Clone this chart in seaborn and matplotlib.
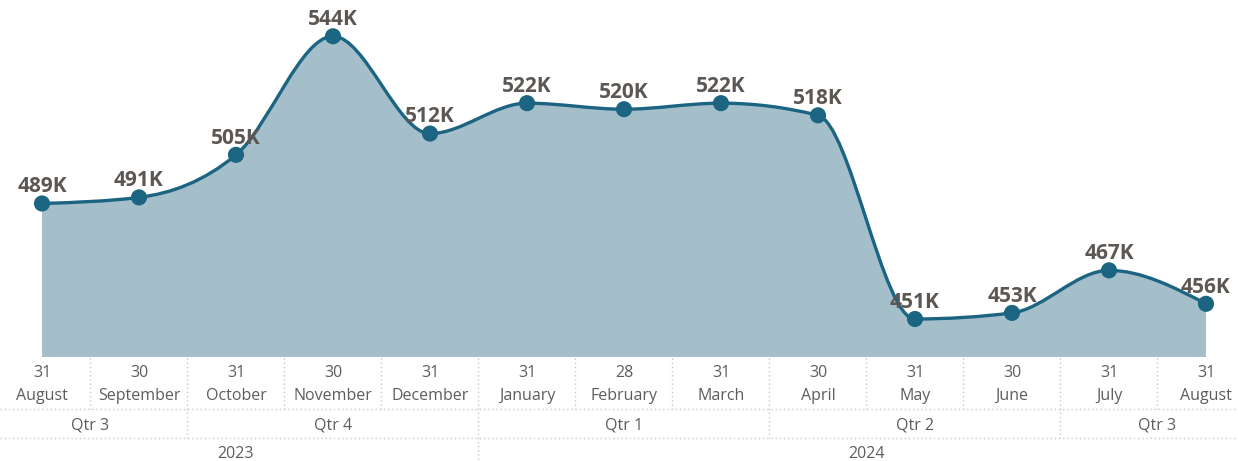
import numpy as np
import matplotlib
matplotlib.use("Agg")
import matplotlib.pyplot as plt
from matplotlib.path import Path
from matplotlib.patches import PathPatch
import seaborn as sns
import pandas as pd

sns.set_theme(style="white")
plt.rcParams['font.family'] = ['Open Sans', 'DejaVu Sans']

# data
days = ["31", "30", "31", "30", "31", "31", "28", "31", "30", "31", "30", "31", "31"]
months = ["August", "September", "October", "November", "December", "January",
          "February", "March", "April", "May", "June", "July", "August"]
quarters = ["Qtr 3", "Qtr 3", "Qtr 4", "Qtr 4", "Qtr 4", "Qtr 1", "Qtr 1",
            "Qtr 1", "Qtr 2", "Qtr 2", "Qtr 2", "Qtr 3", "Qtr 3"]
years = ["2023"] * 5 + ["2024"] * 8
values = [489, 491, 505, 544, 512, 522, 520, 522, 518, 451, 453, 467, 456]  # thousands

df = pd.DataFrame({"pos": np.arange(len(values)), "value": values})

LINE = "#1B6482"
FILL = "#A5BFCA"
TXT = "#5F5D5B"
SEP = "#C8C8C8"

W, H = 1238, 461
fig = plt.figure(figsize=(W / 100, H / 100), dpi=100)
base_px = 357
ax = fig.add_axes([0, (H - base_px) / H, 1, base_px / H])
ppk = 3.04  # pixels per thousand
x0px, step = 42, 97
ymin = 438.5
ax.set_xlim(-x0px / step, (W - x0px) / step)
ax.set_ylim(ymin, ymin + base_px / ppk)
ax.axis("off")


def monotone_tangents(x, y):
    x = np.asarray(x, float)
    y = np.asarray(y, float)
    n = len(x)
    h = np.diff(x)
    s = np.diff(y) / h
    t = np.zeros(n)
    for i in range(1, n - 1):
        p = (s[i - 1] * h[i] + s[i] * h[i - 1]) / (h[i - 1] + h[i])
        t[i] = (np.sign(s[i - 1]) + np.sign(s[i])) * min(abs(s[i - 1]), abs(s[i]), 0.5 * abs(p))
    t[0] = (3 * s[0] - t[1]) / 2
    t[-1] = (3 * s[-1] - t[-2]) / 2
    return t


xs = df["pos"].to_numpy(float)
ys = df["value"].to_numpy(float)
tg = monotone_tangents(xs, ys)
verts = [(xs[0], ys[0])]
codes = [Path.MOVETO]
for i in range(len(xs) - 1):
    dx = xs[i + 1] - xs[i]
    verts += [(xs[i] + dx / 3, ys[i] + dx * tg[i] / 3),
              (xs[i + 1] - dx / 3, ys[i + 1] - dx * tg[i + 1] / 3),
              (xs[i + 1], ys[i + 1])]
    codes += [Path.CURVE4] * 3
line_path = Path(verts, codes)
fill_path = Path(verts + [(xs[-1], ymin), (xs[0], ymin), (xs[0], ys[0])],
                 codes + [Path.LINETO, Path.LINETO, Path.CLOSEPOLY])
ax.add_patch(PathPatch(fill_path, facecolor=FILL, edgecolor="none", zorder=1))
ax.add_patch(PathPatch(line_path, facecolor="none", edgecolor=LINE, lw=2.4, zorder=2))

sns.scatterplot(data=df, x="pos", y="value", ax=ax, s=135, color=LINE,
                edgecolor="none", zorder=3, legend=False)
ax.set_xlim(-x0px / step, (W - x0px) / step)
ax.set_ylim(ymin, ymin + base_px / ppk)
ax.axis("off")

for x, v in zip(xs, values):
    ax.annotate(f"{v}K", (x, v), xytext=(0, 8), textcoords="offset points",
                ha="center", va="baseline", fontsize=15, fontweight="bold",
                color="#5C5753", zorder=4)


def ay(py):
    return (base_px - py) / base_px


tr = ax.get_xaxis_transform()
kw = dict(transform=tr, clip_on=False, color=TXT, fontsize=11.5, ha="center", va="center")
for i, (d, m) in enumerate(zip(days, months)):
    ax.text(i, ay(373), d, **kw)
    ax.text(i, ay(396), m, **kw)


def runs(labels):
    out = []
    start = 0
    for i in range(1, len(labels) + 1):
        if i == len(labels) or labels[i] != labels[start] or (labels is quarters and years[i] != years[start]):
            out.append((start, i - 1, labels[start]))
            start = i
    return out


q_runs = runs(quarters)
y_runs = runs(years)
for a, b, lab in q_runs:
    ax.text((a + b) / 2, ay(425), lab, **kw)
for a, b, lab in y_runs:
    ax.text((a + b) / 2, ay(454), lab, **kw)

q_bounds = {b for a, b, _ in q_runs[:-1]}
y_bounds = {b for a, b, _ in y_runs[:-1]}
dot = dict(transform=tr, clip_on=False, color=SEP, lw=1, ls=(0, (1, 2)))
for i in range(len(values) - 1):
    bottom = 409
    if i in q_bounds:
        bottom = 438
    if i in y_bounds:
        bottom = 461
    ax.plot([i + 0.5, i + 0.5], [ay(358), ay(bottom)], **dot)
xl = ax.get_xlim()
for py in (409, 438):
    ax.plot([xl[0], xl[1]], [ay(py), ay(py)], **dot)

fig.savefig("out.png", dpi=100, facecolor="white")
